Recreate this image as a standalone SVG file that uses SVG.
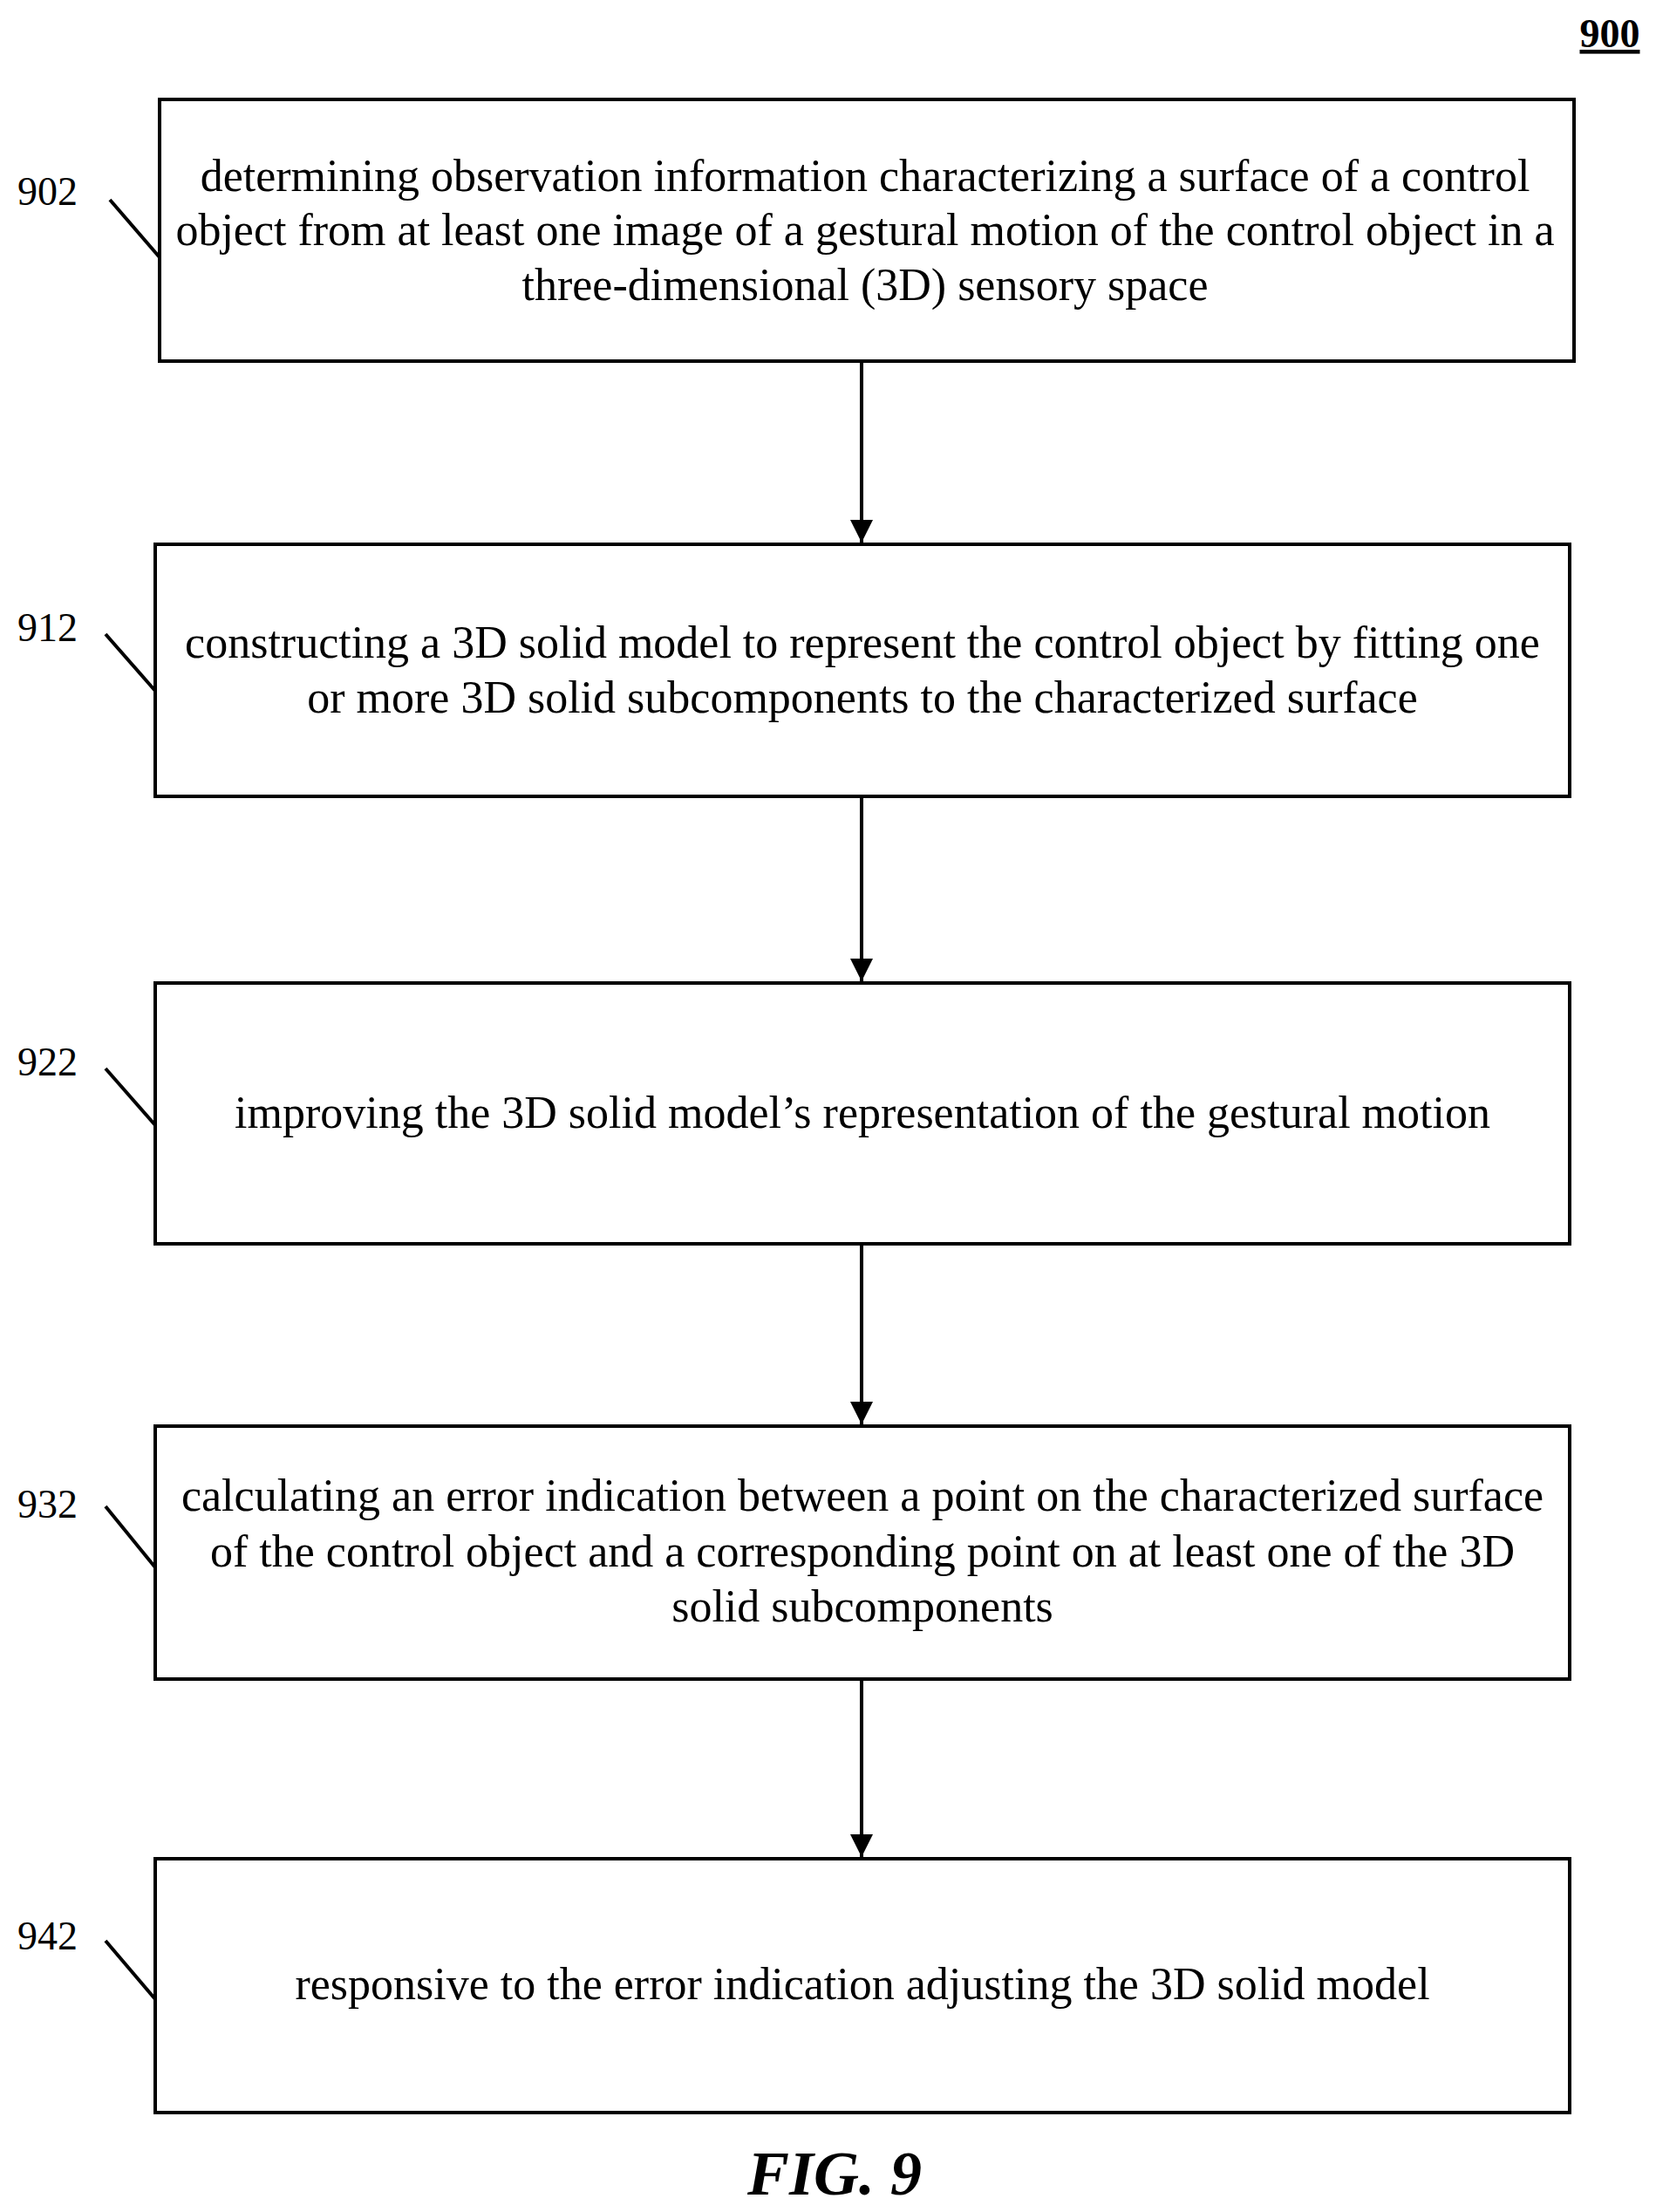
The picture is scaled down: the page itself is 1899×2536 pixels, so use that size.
<svg xmlns="http://www.w3.org/2000/svg" width="1899" height="2536" viewBox="0 0 1899 2536">
<style>
.b{fill:#fff;stroke:#000;stroke-width:4}
.t{font-family:"Liberation Serif",serif;font-size:52px;text-anchor:middle;fill:#000}
.l{font-family:"Liberation Serif",serif;font-size:46px;fill:#000}
.c{stroke:#000;stroke-width:4;fill:none}
</style>
<defs><marker id="ah" viewBox="0 0 10 10" refX="10" refY="5" markerWidth="26" markerHeight="30" orient="auto" markerUnits="userSpaceOnUse"><path d="M0,0L10,5L0,10z" fill="#000"/></marker></defs>
<rect width="1899" height="2536" fill="#fff"/>
<text x="1846" y="54" class="l" style="font-weight:bold;text-anchor:middle;text-decoration:underline">900</text>
<g id="n902"><rect class="b" x="183" y="114" width="1622" height="300"/>
<text class="t" x="992" y="219">determining observation information characterizing a surface of a control</text>
<text class="t" x="992" y="281">object from at least one image of a gestural motion of the control object in a</text>
<text class="t" x="992" y="344">three-dimensional (3D) sensory space</text>
<text class="l" x="20" y="235">902</text><path class="c" d="M126,229L183,295"/></g>
<g id="n912"><rect class="b" x="178" y="624" width="1622" height="289"/>
<text class="t" x="989" y="754">constructing a 3D solid model to represent the control object by fitting one</text>
<text class="t" x="989" y="817">or more 3D solid subcomponents to the characterized surface</text>
<text class="l" x="20" y="735">912</text><path class="c" d="M121,727L178,792"/></g>
<g id="n922"><rect class="b" x="178" y="1127" width="1622" height="299"/>
<text class="t" x="989" y="1293">improving the 3D solid model’s representation of the gestural motion</text>
<text class="l" x="20" y="1233">922</text><path class="c" d="M121,1225L178,1290"/></g>
<g id="n932"><rect class="b" x="178" y="1635" width="1622" height="290"/>
<text class="t" x="989" y="1732">calculating an error indication between a point on the characterized surface</text>
<text class="t" x="989" y="1796">of the control object and a corresponding point on at least one of the 3D</text>
<text class="t" x="989" y="1859">solid subcomponents</text>
<text class="l" x="20" y="1740">932</text><path class="c" d="M121,1727L178,1797"/></g>
<g id="n942"><rect class="b" x="178" y="2131" width="1622" height="291"/>
<text class="t" x="989" y="2292">responsive to the error indication adjusting the 3D solid model</text>
<text class="l" x="20" y="2235">942</text><path class="c" d="M121,2225L178,2292"/></g>
<g id="connectors">
<path class="c" d="M988,414V622" marker-end="url(#ah)"/>
<path class="c" d="M988,913V1125" marker-end="url(#ah)"/>
<path class="c" d="M988,1426V1633" marker-end="url(#ah)"/>
<path class="c" d="M988,1925V2129" marker-end="url(#ah)"/>
</g>
<text x="957" y="2516" style="font-family:'Liberation Serif',serif;font-size:72px;font-style:italic;font-weight:bold;text-anchor:middle">FIG. 9</text>
</svg>
